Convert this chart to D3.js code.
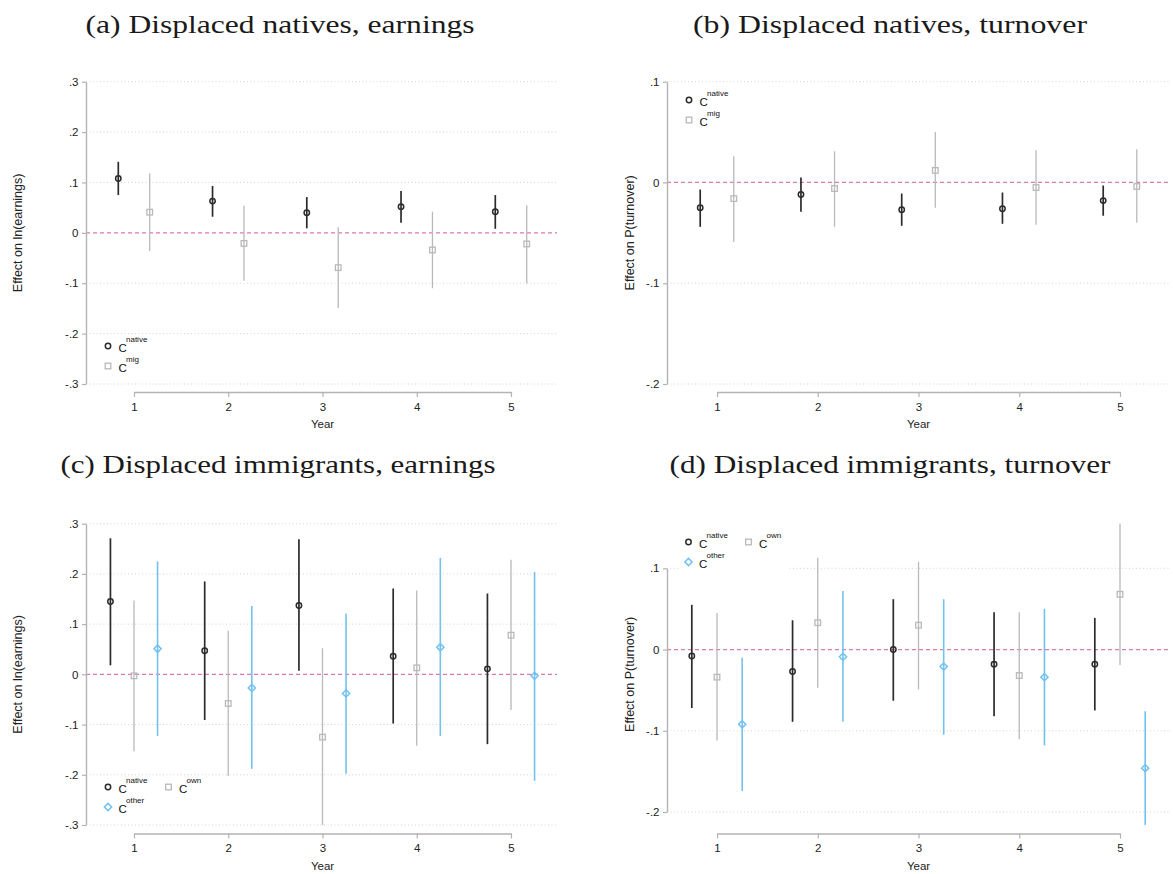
<!DOCTYPE html>
<html>
<head>
<meta charset="utf-8">
<script src="https://cdn.jsdelivr.net/npm/d3@7"></script>
<style>
  html, body { margin: 0; padding: 0; background: #ffffff; }
  svg { display: block; }
</style>
</head>
<body>
<svg id="chart" width="1173" height="874"></svg>
<script>
// ---------------- DATA ----------------
const years = [1, 2, 3, 4, 5];
const yearTickLabels = ["1", "2", "3", "4", "5"];

const earnTicks = [-0.3, -0.2, -0.1, 0, 0.1, 0.2, 0.3];
const earnTickLabels = ["-.3", "-.2", "-.1", "0", ".1", ".2", ".3"];
const turnTicks = [-0.2, -0.1, 0, 0.1];
const turnTickLabels = ["-.2", "-.1", "0", ".1"];

const titles = [
  "(a) Displaced natives, earnings",
  "(b) Displaced natives, turnover",
  "(c) Displaced immigrants, earnings",
  "(d) Displaced immigrants, turnover"
];
const yLabels = ["Effect on ln(earnings)", "Effect on P(turnover)"];
const xLabel = "Year";

// (a) displaced natives, earnings
const aNativeEst = [0.108, 0.063, 0.040, 0.052, 0.042];
const aNativeLo  = [0.075, 0.032, 0.009, 0.020, 0.008];
const aNativeHi  = [0.141, 0.093, 0.071, 0.083, 0.075];
const aMigEst    = [0.041, -0.021, -0.069, -0.034, -0.022];
const aMigLo     = [-0.036, -0.095, -0.149, -0.110, -0.100];
const aMigHi     = [0.118, 0.054, 0.011, 0.042, 0.055];

// (b) displaced natives, turnover
const bNativeEst = [-0.025, -0.012, -0.027, -0.026, -0.018];
const bNativeLo  = [-0.044, -0.029, -0.043, -0.041, -0.033];
const bNativeHi  = [-0.007, 0.005, -0.011, -0.010, -0.003];
const bMigEst    = [-0.016, -0.006, 0.012, -0.005, -0.004];
const bMigLo     = [-0.059, -0.044, -0.025, -0.042, -0.040];
const bMigHi     = [0.026, 0.031, 0.050, 0.032, 0.033];

// (c) displaced immigrants, earnings
const cNativeEst = [0.145, 0.047, 0.137, 0.036, 0.011];
const cNativeLo  = [0.018, -0.091, 0.007, -0.098, -0.139];
const cNativeHi  = [0.271, 0.185, 0.269, 0.171, 0.161];
const cOwnEst    = [-0.003, -0.058, -0.125, 0.013, 0.078];
const cOwnLo     = [-0.153, -0.202, -0.300, -0.142, -0.071];
const cOwnHi     = [0.147, 0.087, 0.052, 0.167, 0.228];
const cOtherEst  = [0.051, -0.027, -0.038, 0.054, -0.003];
const cOtherLo   = [-0.123, -0.188, -0.198, -0.123, -0.212];
const cOtherHi   = [0.225, 0.136, 0.121, 0.232, 0.204];

// (d) displaced immigrants, turnover
const dNativeEst = [-0.008, -0.027, 0.000, -0.018, -0.018];
const dNativeLo  = [-0.072, -0.089, -0.063, -0.082, -0.075];
const dNativeHi  = [0.055, 0.036, 0.062, 0.046, 0.039];
const dOwnEst    = [-0.034, 0.033, 0.030, -0.032, 0.068];
const dOwnLo     = [-0.112, -0.047, -0.049, -0.110, -0.019];
const dOwnHi     = [0.045, 0.113, 0.108, 0.046, 0.155];
const dOtherEst  = [-0.092, -0.009, -0.021, -0.034, -0.146];
const dOtherLo   = [-0.174, -0.089, -0.105, -0.118, -0.216];
const dOtherHi   = [-0.010, 0.072, 0.062, 0.050, -0.076];

// ---------------- STYLE ----------------
const COL_NATIVE = "#2b2b2b";
const COL_GRAY = "#b9b9b9";
const COL_BLUE = "#72c2ef";
const COL_ZERO = "#e07aab";
const COL_AXIS = "#b3b3b3";
const COL_GRID = "#d4d4d4";
const SANS = "'Liberation Sans', Arial, sans-serif";
const SERIF = "'Liberation Serif', 'Times New Roman', serif";

const styles = {
  native: { color: COL_NATIVE, lw: 1.7, shape: "circle", label: "native" },
  mig:    { color: COL_GRAY,   lw: 1.3, shape: "square", label: "mig" },
  own:    { color: COL_GRAY,   lw: 1.3, shape: "square", label: "own" },
  other:  { color: COL_BLUE,   lw: 1.6, shape: "diamond", label: "other" }
};

function mk(est, lo, hi) { return years.map((yr, i) => ({ year: yr, est: est[i], lo: lo[i], hi: hi[i] })); }

const panels = [
  { title: titles[0], tx: 280, ty: 33, tw: 389,
    xr: [134, 511], yr: [384, 81.7], dom: [-0.3, 0.3], ticks: earnTicks, tlabs: earnTickLabels,
    axisX: 86, gridR: 557, xAxisY: 392, plotTop: 81.7, plotBot: 384,
    ylab: yLabels[0], ylabX: 17,
    series: [ { key: "native", off: -1/6, data: mk(aNativeEst, aNativeLo, aNativeHi) },
              { key: "mig", off: 1/6, data: mk(aMigEst, aMigLo, aMigHi) } ],
    legend: [ { key: "native", x: 108, y: 346 }, { key: "mig", x: 108, y: 366 } ], legendBg: null },
  { title: titles[1], tx: 890, ty: 33, tw: 394,
    xr: [717, 1120], yr: [384, 81.7], dom: [-0.2, 0.1], ticks: turnTicks, tlabs: turnTickLabels,
    axisX: 667, gridR: 1170, xAxisY: 392, plotTop: 81.7, plotBot: 384,
    ylab: yLabels[1], ylabX: 629.5,
    series: [ { key: "native", off: -1/6, data: mk(bNativeEst, bNativeLo, bNativeHi) },
              { key: "mig", off: 1/6, data: mk(bMigEst, bMigLo, bMigHi) } ],
    legend: [ { key: "native", x: 689, y: 100 }, { key: "mig", x: 689, y: 120 } ], legendBg: null },
  { title: titles[2], tx: 278, ty: 473, tw: 435,
    xr: [134, 511], yr: [825, 523.7], dom: [-0.3, 0.3], ticks: earnTicks, tlabs: earnTickLabels,
    axisX: 86, gridR: 557, xAxisY: 833.5, plotTop: 523.7, plotBot: 825,
    ylab: yLabels[0], ylabX: 17,
    series: [ { key: "native", off: -0.25, data: mk(cNativeEst, cNativeLo, cNativeHi) },
              { key: "own", off: 0, data: mk(cOwnEst, cOwnLo, cOwnHi) },
              { key: "other", off: 0.25, data: mk(cOtherEst, cOtherLo, cOtherHi) } ],
    legend: [ { key: "native", x: 108, y: 787 }, { key: "own", x: 168.5, y: 787 }, { key: "other", x: 108, y: 807 } ], legendBg: null },
  { title: titles[3], tx: 890, ty: 473, tw: 441,
    xr: [717, 1120], yr: [812, 568.3], dom: [-0.2, 0.1], ticks: turnTicks, tlabs: turnTickLabels,
    axisX: 667, gridR: 1170, xAxisY: 833.5, plotTop: 523.7, plotBot: 825,
    ylab: yLabels[1], ylabX: 629.5,
    series: [ { key: "native", off: -0.25, data: mk(dNativeEst, dNativeLo, dNativeHi) },
              { key: "own", off: 0, data: mk(dOwnEst, dOwnLo, dOwnHi) },
              { key: "other", off: 0.25, data: mk(dOtherEst, dOtherLo, dOtherHi) } ],
    legend: [ { key: "native", x: 688.5, y: 542 }, { key: "own", x: 748.5, y: 542 }, { key: "other", x: 688.5, y: 562 } ],
    legendBg: [680, 527, 108, 46] }
];

// ---------------- DRAW ----------------
const svg = d3.select("#chart");
svg.append("rect").attr("width", 1173).attr("height", 874).attr("fill", "#fff");

function drawMarker(g, shape, cx, cy, color) {
  if (shape === "circle") {
    g.append("circle").attr("cx", cx).attr("cy", cy).attr("r", 2.7)
      .attr("fill", "none").attr("stroke", color).attr("stroke-width", 1.5);
  } else if (shape === "square") {
    g.append("rect").attr("x", cx - 2.8).attr("y", cy - 2.8).attr("width", 5.6).attr("height", 5.6)
      .attr("fill", "none").attr("stroke", color).attr("stroke-width", 1.3);
  } else {
    const r = 3.6;
    g.append("path").attr("d", `M${cx},${cy - r}L${cx + r},${cy}L${cx},${cy + r}L${cx - r},${cy}Z`)
      .attr("fill", "none").attr("stroke", color).attr("stroke-width", 1.5);
  }
}

panels.forEach(p => {
  const g = svg.append("g");
  const x = d3.scaleLinear().domain([1, 5]).range(p.xr);
  const y = d3.scaleLinear().domain(p.dom).range(p.yr);

  // grid lines (zero handled by reference line)
  g.append("g").selectAll("line").data(p.ticks.filter(t => t !== 0)).join("line")
    .attr("x1", p.axisX).attr("x2", p.gridR)
    .attr("y1", d => y(d)).attr("y2", d => y(d))
    .attr("stroke", COL_GRID).attr("stroke-width", 1).attr("stroke-dasharray", "1,2.5");

  // zero reference line
  g.append("line").attr("x1", p.axisX).attr("x2", p.gridR).attr("y1", y(0)).attr("y2", y(0))
    .attr("stroke", COL_ZERO).attr("stroke-width", 1.2).attr("stroke-dasharray", "4,3");

  // y axis
  const yAxis = d3.axisLeft(y).tickValues(p.ticks)
    .tickFormat(d => p.tlabs[p.ticks.indexOf(d)])
    .tickSize(4).tickSizeOuter(0).tickPadding(3.5);
  const ya = g.append("g").attr("transform", `translate(${p.axisX},0)`).call(yAxis);
  ya.select(".domain").attr("stroke", COL_AXIS).attr("stroke-width", 1.4);
  ya.selectAll(".tick line").attr("stroke", COL_AXIS).attr("stroke-width", 1.2);
  ya.selectAll(".tick text").attr("font-family", SANS).attr("font-size", 11.5).attr("fill", "#222");

  // x axis
  const xAxis = d3.axisBottom(x).tickValues(years)
    .tickFormat(d => yearTickLabels[years.indexOf(d)])
    .tickSize(5).tickSizeOuter(0).tickPadding(5.5);
  const xa = g.append("g").attr("transform", `translate(0,${p.xAxisY})`).call(xAxis);
  xa.select(".domain").attr("stroke", COL_AXIS).attr("stroke-width", 1.4);
  xa.selectAll(".tick line").attr("stroke", COL_AXIS).attr("stroke-width", 1.2);
  xa.selectAll(".tick text").attr("font-family", SANS).attr("font-size", 11.5).attr("fill", "#222");

  // axis titles
  g.append("text").attr("x", (p.xr[0] + p.xr[1]) / 2).attr("y", p.xAxisY + 36)
    .attr("text-anchor", "middle").attr("font-family", SANS).attr("font-size", 11.5).attr("fill", "#222")
    .text(xLabel);
  const ymid = (p.plotTop + p.plotBot) / 2;
  g.append("text").attr("transform", `translate(${p.ylabX + 4.5},${ymid}) rotate(-90)`)
    .attr("text-anchor", "middle").attr("font-family", SANS).attr("font-size", 12.5).attr("fill", "#222")
    .text(p.ylab);

  // panel title
  g.append("text").attr("x", p.tx).attr("y", p.ty).attr("text-anchor", "middle")
    .attr("font-family", SERIF).attr("font-size", 26).attr("fill", "#1a1a1a")
    .attr("textLength", p.tw).attr("lengthAdjust", "spacingAndGlyphs")
    .text(p.title);

  // series
  p.series.forEach(s => {
    const st = styles[s.key];
    const sg = g.append("g");
    sg.selectAll("line").data(s.data).join("line")
      .attr("x1", d => x(d.year + s.off)).attr("x2", d => x(d.year + s.off))
      .attr("y1", d => y(d.lo)).attr("y2", d => y(d.hi))
      .attr("stroke", st.color).attr("stroke-width", st.lw);
    s.data.forEach(d => drawMarker(sg, st.shape, x(d.year + s.off), y(d.est), st.color));
  });

  // legend
  const lg = g.append("g");
  if (p.legendBg) {
    lg.append("rect").attr("x", p.legendBg[0]).attr("y", p.legendBg[1])
      .attr("width", p.legendBg[2]).attr("height", p.legendBg[3]).attr("fill", "#fff");
  }
  p.legend.forEach(l => {
    const st = styles[l.key];
    drawMarker(lg, st.shape, l.x, l.y, st.color);
    lg.append("text").attr("x", l.x + 10.5).attr("y", l.y + 6.3)
      .attr("font-family", SANS).attr("font-size", 11.5).attr("fill", "#111").text("C");
    lg.append("text").attr("x", l.x + 18).attr("y", l.y - 3.8)
      .attr("font-family", SANS).attr("font-size", 8).attr("fill", "#111").text(st.label);
  });
});
</script>
</body>
</html>
